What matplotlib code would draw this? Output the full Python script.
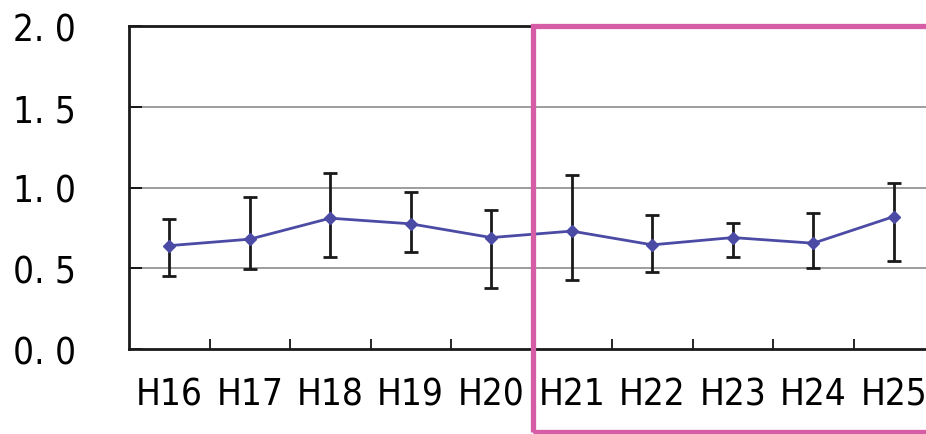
import matplotlib.pyplot as plt
from matplotlib.patches import Rectangle
import numpy as np

plt.rcParams['font.family'] = ['DejaVu Sans']
plt.rcParams['font.stretch'] = 'condensed'

# Data
years = ['H16', 'H17', 'H18', 'H19', 'H20', 'H21', 'H22', 'H23', 'H24', 'H25']
mean = [0.64, 0.68, 0.81, 0.775, 0.69, 0.73, 0.645, 0.69, 0.655, 0.82]
upper = [0.805, 0.94, 1.09, 0.97, 0.86, 1.08, 0.83, 0.78, 0.84, 1.025]
lower = [0.455, 0.495, 0.57, 0.60, 0.375, 0.43, 0.475, 0.57, 0.50, 0.545]
yticks = [0.0, 0.5, 1.0, 1.5, 2.0]
ytick_labels = ['0. 0', '0. 5', '1. 0', '1. 5', '2. 0']

x = np.arange(len(years))
mean = np.array(mean)
yerr = [mean - np.array(lower), np.array(upper) - mean]

fig = plt.figure(figsize=(9.26, 4.35), dpi=100)
ax = fig.add_axes([129 / 926, 85 / 435, 805 / 926, 323 / 435])

#Gridlines
for v in yticks[1:-1]:
    ax.axhline(v, color='#8c8c8c', lw=1.2, zorder=1)

ax.errorbar(x, mean, yerr=yerr, fmt='none', ecolor='#1a1a1a',
            elinewidth=2.0, capsize=5, capthick=2.0, zorder=2)
ax.plot(x, mean, color='#4b4ba6', lw=2.0, marker='D', markersize=6, zorder=3)

ax.set_xlim(-0.5, len(years) - 0.5)
ax.set_ylim(0, 2.0)

ax.set_xticks(x)
ax.set_xticklabels(years)
ax.set_xticks(x[:-1] + 0.5, minor=True)
ax.tick_params(axis='x', which='major', length=0, labelsize=26.5, pad=19)
ax.tick_params(axis='x', which='minor', direction='in', length=7, width=1.2)

ax.set_yticks(yticks)
ax.set_yticklabels(ytick_labels)
ax.tick_params(axis='y', direction='in', length=9, width=1.2, labelsize=26.5, pad=38)

for s in ['left', 'bottom', 'top']:
    ax.spines[s].set_linewidth(2.0)
    ax.spines[s].set_color('#1a1a1a')
ax.spines['right'].set_visible(False)

#Highlight box for H21 onwards
fig.patches.append(Rectangle((533 / 926, 2 / 435), 420 / 926, 406 / 435,
                             transform=fig.transFigure, fill=False,
                             edgecolor='#d65ca6', lw=3.8, zorder=10))

plt.savefig('out.png', dpi=100)
